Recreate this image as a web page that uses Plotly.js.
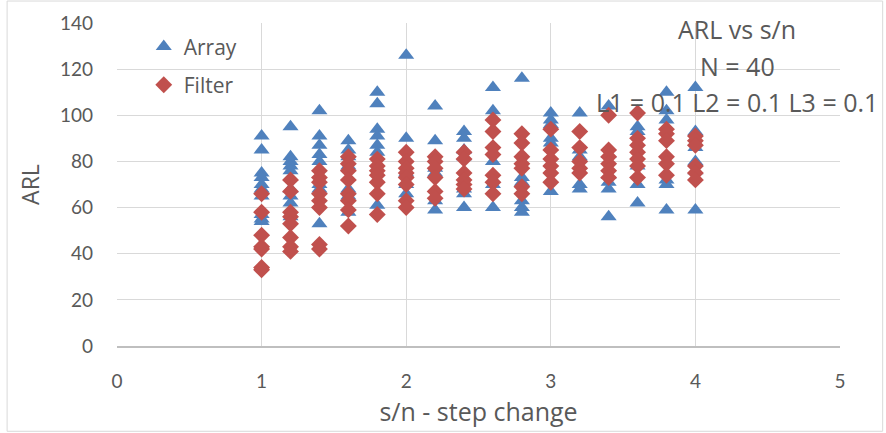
<!DOCTYPE html>
<html>
<head>
<meta charset="utf-8">
<script src="https://cdn.plot.ly/plotly-3.0.1.min.js"></script>
<style>
  html, body { margin: 0; padding: 0; background: #ffffff; }
  #chart { width: 886px; height: 433px; }
</style>
</head>
<body>
<div id="chart"></div>
<script>
// Step change sizes (s/n) at which the runs were made
const stepChange = [1.0, 1.2, 1.4, 1.6, 1.8, 2.0, 2.2, 2.4, 2.6, 2.8, 3.0, 3.2, 3.4, 3.6, 3.8, 4.0];

// ARL of the Array detector, one list of runs per step change
const arrayARL = [
  [91, 85, 75, 73, 70, 68, 65, 57, 55, 54],
  [95, 82, 80, 78, 76, 68, 65, 62, 56],
  [102, 91, 87, 83, 80, 70, 68, 53],
  [89, 85, 82, 78, 68, 65, 58],
  [110, 105, 94, 91, 87, 84, 61],
  [126, 90, 75, 70, 66],
  [104, 89, 77, 75, 63, 59],
  [93, 90, 85, 82, 68, 66, 60],
  [112, 102, 80, 70, 60],
  [116, 73, 71, 63, 60, 58],
  [101, 98, 96, 90, 88, 67],
  [101, 85, 82, 70, 68],
  [104, 83, 74, 71, 68, 56],
  [95, 93, 78, 70, 62],
  [110, 102, 98, 72, 70, 59],
  [112, 93, 86, 80, 76, 59]
];

// ARL of the Filter detector, one list of runs per step change
const filterARL = [
  [66, 58, 48, 43, 42, 34, 33],
  [72, 67, 58, 56, 53, 47, 43, 41],
  [76, 73, 71, 66, 63, 60, 44, 42],
  [82, 79, 76, 72, 66, 63, 59, 52],
  [81, 78, 76, 74, 71, 66, 57],
  [84, 80, 77, 75, 73, 70, 63, 60],
  [82, 80, 77, 73, 67, 64],
  [84, 81, 75, 72, 70, 68],
  [98, 93, 86, 83, 74, 71, 66],
  [92, 88, 82, 79, 77, 69, 66],
  [94, 85, 81, 78, 75, 71],
  [93, 86, 80, 77, 75],
  [100, 85, 82, 79, 76, 73],
  [101, 90, 87, 84, 81, 78, 73],
  [94, 92, 89, 82, 79, 74],
  [91, 89, 87, 78, 75, 72]
];

const titleLines = ['ARL vs s/n', 'N = 40', 'L1 = 0.1 L2 = 0.1 L3 = 0.1'];

// Expand the per-step lists into flat x/y arrays for scatter traces
function flatten(groups) {
  const x = [], y = [];
  groups.forEach((runs, i) => {
    runs.forEach(v => { x.push(stepChange[i]); y.push(v); });
  });
  return { x, y };
}

const arr = flatten(arrayARL);
const fil = flatten(filterARL);

const TICKFONT = 'Lato, "Open Sans", sans-serif';
const FONT = '"Open Sans", Lato, sans-serif';
const TEXT = '#595959';
const GRID = '#d9d9d9';

const traces = [
  {
    type: 'scatter', mode: 'markers', name: 'Array',
    x: arr.x, y: arr.y, legendgroup: 'a',
    marker: { symbol: 'triangle-up', size: 14, color: '#4F81BD' }
  },
  {
    type: 'scatter', mode: 'markers', name: 'Filter',
    x: fil.x, y: fil.y, legendgroup: 'f',
    marker: { symbol: 'diamond', size: 13, color: '#C0504D' }
  }
];

const titleY = [0.981, 0.868, 0.754];

const layout = {
  width: 886, height: 433,
  margin: { l: 117, r: 46, t: 23, b: 87 },
  paper_bgcolor: '#ffffff', plot_bgcolor: '#ffffff',
  font: { family: FONT, color: TEXT, size: 19 },
  showlegend: true,
  legend: {
    x: 0.037, y: 0.99, xanchor: 'left', yanchor: 'top',
    bgcolor: 'rgba(255,255,255,0)', borderwidth: 0,
    font: { family: FONT, size: 21, color: TEXT },
    tracegroupgap: 8, itemwidth: 30
  },
  xaxis: {
    range: [0, 5], dtick: 1, tick0: 0,
    showgrid: true, gridcolor: GRID, gridwidth: 1,
    zeroline: false, showline: true, linecolor: '#bfbfbf', linewidth: 1.5,
    ticks: '', ticklabelstandoff: 18,
    tickfont: { family: TICKFONT, size: 19, color: TEXT },
    title: { text: 's/n - step change', font: { family: FONT, size: 25, color: TEXT }, standoff: 12 },
    fixedrange: true
  },
  yaxis: {
    range: [0, 140], dtick: 20, tick0: 0,
    showgrid: true, gridcolor: GRID, gridwidth: 1,
    zeroline: false, showline: false,
    ticks: '', ticklabelstandoff: 23,
    tickfont: { family: TICKFONT, size: 19, color: TEXT },
    title: { text: 'ARL', font: { family: FONT, size: 23, color: TEXT }, standoff: 13 },
    fixedrange: true
  },
  annotations: titleLines.map((t, i) => ({
    text: t, xref: 'paper', yref: 'paper', x: 0.858, y: titleY[i],
    xanchor: 'center', yanchor: 'middle', showarrow: false,
    font: { family: FONT, size: 25, color: TEXT }
  })),
  shapes: [{
    type: 'rect', xref: 'paper', yref: 'paper',
    x0: -0.152, x1: 1.059, y0: -0.264, y1: 1.068,
    line: { color: '#d9d9d9', width: 1 }, layer: 'below'
  }]
};

Plotly.newPlot('chart', traces, layout, { displayModeBar: false, staticPlot: true });
</script>
</body>
</html>
